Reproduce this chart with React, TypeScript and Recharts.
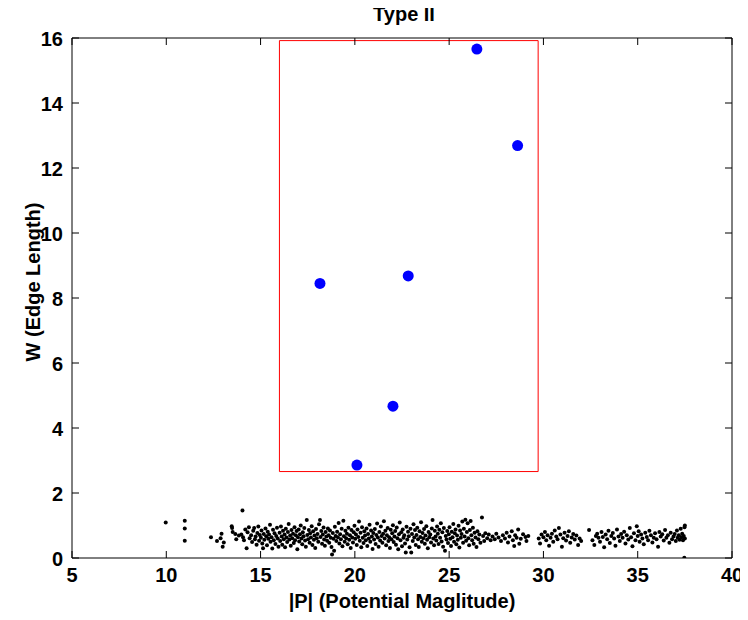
import React from 'react';
import { ScatterChart, Scatter, XAxis, YAxis, ReferenceArea } from 'recharts';

const xTicks = [5, 10, 15, 20, 25, 30, 35, 40];
const yTicks = [0, 2, 4, 6, 8, 10, 12, 14, 16];

const titleText = 'Type II';
const xLabelText = '|P| (Potential Maglitude)';
const yLabelText = 'W (Edge Length)';

// Highlighted Type II edges (blue)
const typeTwoX = [26.47, 28.63, 18.15, 22.83, 22.02, 20.11];
const typeTwoY = [15.66, 12.69, 8.45, 8.68, 4.67, 2.86];

// Selection box (red)
const boxX = [16.0, 29.72];
const boxY = [2.66, 15.92];

// Background edges (black dots)
const dotsWest: [number, number][] = [
  [9.97,1.09],[10.98,1.15],[10.98,0.91],[10.98,0.53],[12.37,0.64],[12.69,0.52],[12.88,0.61],[12.93,0.75],[12.99,0.35],[13.05,0.48],
  [13.47,0.98],[13.49,0.92],[13.52,0.80],[13.66,0.74],[13.71,0.58],[13.85,0.69],[13.98,0.72],[14.04,1.46],[14.07,0.64],[14.12,0.55],
  [14.19,0.88],[14.26,0.30],[14.31,0.79],[14.38,0.95],[14.42,0.61],[14.5,0.70],[14.55,0.49],[14.61,0.84],[14.66,0.92],[14.7,0.58],
  [14.74,0.66],[14.79,0.41],[14.83,0.77],[14.88,0.97],[14.92,0.53],[14.96,0.71],
];

const dotsCore: [number, number][] = [
  [15.02,0.62],[15.05,0.85],[15.09,0.45],[15.13,0.30],[15.17,0.74],[15.2,0.56],[15.26,0.91],[15.3,0.67],[15.34,0.39],[15.38,0.81],
  [15.41,0.59],[15.45,0.72],[15.5,1.02],[15.53,0.50],[15.58,0.64],[15.62,0.29],[15.66,0.87],[15.7,0.55],[15.74,0.76],[15.79,0.43],
  [15.83,0.68],[15.87,0.93],[15.91,0.60],[15.95,0.35],
  [16.01,0.78],[16.04,0.52],[16.08,0.97],[16.12,0.66],[16.15,0.41],[16.19,0.84],[16.23,0.58],[16.27,0.72],[16.3,0.33],[16.34,0.90],
  [16.38,0.63],[16.41,0.49],[16.45,0.80],[16.49,1.05],[16.53,0.57],[16.57,0.69],[16.6,0.38],[16.64,0.86],[16.68,0.61],[16.72,0.75],
  [16.76,0.46],[16.8,0.95],[16.83,0.55],[16.87,0.70],[16.91,0.83],[16.95,0.27],[16.98,0.64],
  [17.02,0.88],[17.05,0.51],[17.09,0.73],[17.13,1.00],[17.17,0.60],[17.21,0.42],[17.24,0.79],[17.28,0.67],[17.32,0.92],[17.36,0.54],
  [17.4,0.35],[17.45,1.17],[17.48,0.71],[17.52,0.58],[17.56,0.86],[17.6,0.47],[17.63,0.76],[17.67,0.63],[17.71,0.98],[17.75,0.40],
  [17.79,0.82],[17.83,0.56],[17.86,0.69],[17.9,0.31],[17.94,0.89],[17.98,0.61],
  [18.02,0.74],[18.06,0.50],[18.1,1.04],[18.15,1.17],[18.18,0.65],[18.22,0.83],[18.26,0.44],[18.3,0.72],[18.34,0.94],[18.37,0.57],
  [18.41,0.38],[18.45,0.80],[18.49,0.66],[18.53,0.53],[18.57,0.91],[18.61,0.70],[18.64,0.47],[18.68,0.85],[18.72,0.62],[18.76,0.34],
  [18.79,0.11],[18.83,0.77],[18.87,0.59],[18.9,0.22],[18.94,0.96],[18.98,0.68],
  [19.02,0.52],[19.06,0.81],[19.1,0.64],[19.14,1.08],[19.18,0.45],[19.22,0.73],[19.26,0.58],[19.3,0.90],[19.34,0.36],[19.39,1.15],
  [19.42,0.67],[19.46,0.50],[19.5,0.84],[19.54,0.61],[19.58,0.75],[19.62,0.42],[19.66,0.93],[19.7,0.56],[19.74,0.70],[19.78,0.31],
  [19.82,0.86],[19.86,0.63],[19.9,0.48],[19.94,0.79],[19.98,0.99],
  [20.02,0.59],[20.06,0.72],[20.1,0.40],[20.14,0.88],[20.18,0.65],[20.22,1.12],[20.26,0.53],[20.3,0.78],[20.34,0.33],[20.38,0.95],
  [20.42,0.62],[20.46,0.46],[20.5,0.82],[20.54,0.69],[20.58,0.55],[20.62,0.91],[20.66,0.37],[20.7,0.74],[20.74,0.60],[20.78,1.02],
  [20.82,0.50],[20.86,0.85],[20.9,0.66],[20.94,0.28],[20.98,0.77],
  [21.02,0.57],[21.06,0.89],[21.1,0.43],[21.14,0.71],[21.18,1.06],[21.22,0.63],[21.26,0.35],[21.3,0.80],[21.34,0.54],[21.38,0.97],
  [21.42,0.68],[21.46,0.47],[21.5,0.75],[21.54,1.13],[21.58,0.60],[21.62,0.84],[21.66,0.39],[21.7,0.70],[21.74,0.92],[21.78,0.52],
  [21.82,0.64],[21.86,0.31],[21.9,0.87],[21.94,0.58],[21.98,0.76],
  [22.02,1.01],[22.06,0.49],[22.1,0.66],[22.14,0.83],[22.18,0.41],[22.22,0.94],[22.26,0.61],[22.3,0.27],[22.34,0.73],[22.38,1.09],
  [22.42,0.55],[22.46,0.79],[22.5,0.36],[22.54,0.88],[22.58,0.62],[22.62,0.70],[22.66,0.45],[22.7,0.17],[22.74,0.96],[22.78,0.57],
  [22.82,0.81],[22.86,0.67],[22.9,0.33],[22.95,0.90],[22.99,0.17],
  [23.03,0.74],[23.07,0.52],[23.11,1.04],[23.15,0.63],[23.19,0.86],[23.23,0.40],[23.27,0.71],[23.31,0.93],[23.35,0.58],[23.39,0.34],
  [23.43,0.82],[23.47,0.65],[23.51,1.10],[23.55,0.50],[23.59,0.77],[23.63,0.61],[23.67,0.89],[23.71,0.44],[23.75,0.69],[23.79,0.98],
  [23.83,0.56],[23.87,0.30],[23.91,0.80],[23.95,0.64],
  [24.0,0.72],[24.04,0.48],[24.08,0.91],[24.12,1.17],[24.16,0.60],[24.2,0.39],[24.24,0.84],[24.28,0.66],[24.32,0.54],[24.36,0.97],
  [24.4,0.75],[24.44,0.43],[24.48,0.87],[24.52,0.62],[24.56,1.07],[24.6,0.51],[24.64,0.79],[24.68,0.35],[24.72,0.92],[24.78,0.22],
  [24.82,0.68],[24.86,0.57],[24.9,0.83],[24.94,0.46],[24.98,0.73],
  [25.02,0.95],[25.06,0.59],[25.1,0.37],[25.14,0.81],[25.18,0.64],[25.22,1.05],[25.26,0.50],[25.3,0.76],[25.34,0.88],[25.38,0.42],
  [25.42,0.69],[25.46,0.56],[25.5,0.99],[25.54,0.32],[25.58,0.85],[25.62,0.62],[25.66,0.74],[25.7,1.12],[25.74,0.47],[25.78,0.90],
  [25.82,0.66],[25.86,1.18],[25.9,0.53],[25.94,0.80],[25.98,1.07],
  [26.02,0.61],[26.06,0.39],[26.1,0.86],[26.14,1.14],[26.18,0.70],[26.22,0.55],[26.26,0.93],[26.3,0.44],[26.35,0.78],[26.4,0.63],
  [26.45,0.34],[26.5,0.82],[26.55,0.58],[26.6,0.72],[26.66,0.47],[26.74,1.25],[26.8,0.68],[26.86,0.52],[26.92,0.76],
];

const dotsEast: [number, number][] = [
  [27.02,0.61],[27.1,0.72],[27.2,0.55],[27.3,0.66],[27.42,0.58],[27.5,0.75],[27.62,0.63],[27.75,0.52],[27.85,0.70],[27.96,0.60],
  [28.05,0.78],[28.12,0.48],[28.2,0.66],[28.32,0.82],[28.38,0.55],[28.45,0.37],[28.5,0.70],[28.58,0.62],[28.66,0.88],[28.72,0.44],
  [28.8,0.59],[28.92,0.73],[29.05,0.65],[29.1,0.52],[29.2,0.68],[29.75,0.60],[29.82,0.45],[29.9,0.72],
  [30.0,0.64],[30.08,0.80],[30.15,0.55],[30.22,0.70],[30.3,0.38],[30.38,0.62],[30.45,0.75],[30.52,0.50],[30.6,0.85],[30.68,0.66],
  [30.75,0.58],[30.82,0.92],[30.9,0.72],[30.98,0.35],[31.05,0.61],[31.12,0.78],[31.2,0.54],[31.28,0.68],[31.35,0.82],[31.42,0.47],
  [31.5,0.63],[31.58,0.74],[31.66,0.57],[31.75,0.69],[31.84,0.40],[31.92,0.60],[32.0,0.52],[32.42,0.86],
  [32.6,0.55],[32.7,0.40],[32.78,0.68],[32.85,0.75],[32.92,0.62],[33.0,0.50],[33.08,0.80],[33.15,0.65],[33.22,0.33],[33.3,0.72],
  [33.38,0.58],[33.45,0.84],[33.52,0.46],[33.6,0.68],[33.68,0.77],[33.75,0.60],[33.82,0.38],[33.9,0.88],[33.98,0.66],
  [34.05,0.52],[34.12,0.74],[34.2,0.62],[34.28,0.81],[34.35,0.45],[34.42,0.70],[34.5,0.57],[34.58,0.92],[34.65,0.64],[34.72,0.36],
  [34.8,0.76],[34.88,0.55],[34.95,0.98],[35.0,0.68],[35.05,0.82],[35.1,0.50],[35.18,0.72],[35.25,0.60],[35.32,0.42],[35.4,0.78],
  [35.48,0.65],[35.55,0.55],[35.62,0.84],[35.7,0.70],[35.78,0.48],[35.85,0.62],[35.92,0.76],
  [36.0,0.58],[36.08,0.35],[36.15,0.80],[36.22,0.66],[36.3,0.73],[36.38,0.54],[36.45,0.86],[36.52,0.62],[36.6,0.70],[36.68,0.47],
  [36.75,0.78],[36.82,0.58],[36.9,0.66],[36.96,0.74],[37.02,0.52],[37.08,0.85],[37.12,0.62],[37.18,0.70],[37.22,0.56],[37.28,0.90],
  [37.32,0.64],[37.36,0.75],[37.4,0.55],[37.44,0.68],[37.47,0.01],[37.48,0.95],[37.5,1.00],[37.5,0.60],
];

const FONT = '"Liberation Sans", Arial, Helvetica, sans-serif';
const FS = 20;
const TICK_LEN = 7;

const backgroundData = [...dotsWest, ...dotsCore, ...dotsEast].map(([x, y]) => ({ x, y }));
const typeTwoData = typeTwoX.map((x, i) => ({ x, y: typeTwoY[i] }));

const BottomTick = (props: any) => {
  const { x, y, payload } = props;
  return (
    <g>
      <line x1={x} y1={y} x2={x} y2={y - TICK_LEN} stroke="#000" strokeWidth={1} />
      <text x={x} y={y + 24} textAnchor="middle" fontFamily={FONT} fontWeight="bold" fontSize={FS} fill="#000">
        {payload.value}
      </text>
    </g>
  );
};

const TopTick = (props: any) => {
  const { x, y } = props;
  return <line x1={x} y1={y} x2={x} y2={y + TICK_LEN} stroke="#000" strokeWidth={1} />;
};

const LeftTick = (props: any) => {
  const { x, y, payload } = props;
  return (
    <g>
      <line x1={x} y1={y} x2={x + TICK_LEN} y2={y} stroke="#000" strokeWidth={1} />
      <text x={x - 9} y={y + 7.5} textAnchor="end" fontFamily={FONT} fontWeight="bold" fontSize={FS} fill="#000">
        {payload.value}
      </text>
    </g>
  );
};

const RightTick = (props: any) => {
  const { x, y } = props;
  return <line x1={x} y1={y} x2={x - TICK_LEN} y2={y} stroke="#000" strokeWidth={1} />;
};

const TitleLabel = (props: any) => {
  const vb = props.viewBox || { x: 72, y: 37, width: 660 };
  return (
    <text x={vb.x + vb.width / 2 + 2} y={21} textAnchor="middle" fontFamily={FONT} fontWeight="bold" fontSize={FS} fill="#000">
      {titleText}
    </text>
  );
};

const XLabel = (props: any) => {
  const vb = props.viewBox || { x: 72, y: 558, width: 660 };
  return (
    <text x={vb.x + vb.width / 2} y={vb.y + 50} textAnchor="middle" fontFamily={FONT} fontWeight="bold" fontSize={FS} fill="#000">
      {xLabelText}
    </text>
  );
};

const YLabel = (props: any) => {
  const vb = props.viewBox || { x: 28, y: 38, height: 520 };
  const cx = 40;
  const cy = vb.y + vb.height / 2 - 16;
  return (
    <text x={cx} y={cy} transform={`rotate(-90, ${cx}, ${cy})`} textAnchor="middle" fontFamily={FONT} fontWeight="bold" fontSize={FS} fill="#000">
      {yLabelText}
    </text>
  );
};

const SmallDot = (p: any) => <circle cx={p.cx} cy={p.cy} r={2} fill="#000" />;
const BigDot = (p: any) => <circle cx={p.cx} cy={p.cy} r={5.5} fill="#0000ff" />;

export default function App() {
  return (
    <div style={{ width: 748, height: 620, margin: '-8px 0 0 -8px', background: '#fff' }}>
      <ScatterChart width={748} height={620} margin={{ top: 37, right: 15, bottom: 12, left: 28 }}>
        <XAxis
          xAxisId="b"
          type="number"
          dataKey="x"
          domain={[5, 40]}
          ticks={xTicks}
          interval={0}
          allowDataOverflow
          height={50}
          tickSize={0}
          tickMargin={0}
          tickLine={false}
          axisLine={{ stroke: '#000', strokeWidth: 1 }}
          tick={BottomTick}
          label={XLabel}
        />
        <XAxis
          xAxisId="t"
          orientation="top"
          type="number"
          dataKey="x"
          domain={[5, 40]}
          ticks={xTicks}
          interval={0}
          allowDataOverflow
          height={1}
          tickSize={0}
          tickMargin={0}
          tickLine={false}
          axisLine={{ stroke: '#000', strokeWidth: 1 }}
          tick={TopTick}
          label={TitleLabel}
        />
        <YAxis
          yAxisId="l"
          type="number"
          dataKey="y"
          domain={[0, 16]}
          ticks={yTicks}
          interval={0}
          allowDataOverflow
          width={44}
          tickSize={0}
          tickMargin={0}
          tickLine={false}
          axisLine={{ stroke: '#000', strokeWidth: 1 }}
          tick={LeftTick}
          label={YLabel}
        />
        <YAxis
          yAxisId="r"
          orientation="right"
          type="number"
          dataKey="y"
          domain={[0, 16]}
          ticks={yTicks}
          interval={0}
          allowDataOverflow
          width={1}
          tickSize={0}
          tickMargin={0}
          tickLine={false}
          axisLine={{ stroke: '#000', strokeWidth: 1 }}
          tick={RightTick}
        />
        <ReferenceArea
          xAxisId="b"
          yAxisId="l"
          x1={boxX[0]}
          x2={boxX[1]}
          y1={boxY[0]}
          y2={boxY[1]}
          fill="none"
          fillOpacity={0}
          stroke="#ff0000"
          strokeWidth={1}
        />
        <Scatter
          xAxisId="b"
          yAxisId="l"
          data={backgroundData}
          shape={SmallDot}
          isAnimationActive={false}
        />
        <Scatter
          xAxisId="b"
          yAxisId="l"
          data={typeTwoData}
          shape={BigDot}
          isAnimationActive={false}
        />
      </ScatterChart>
    </div>
  );
}
